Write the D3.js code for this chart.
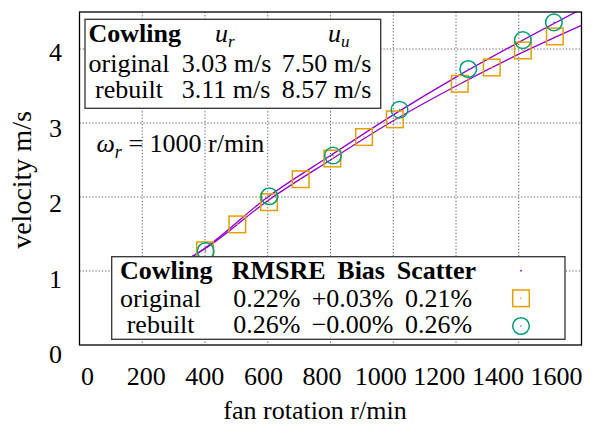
<!DOCTYPE html>
<html lang="en">
<head>
    <meta charset="UTF-8">
    <title>fan rotation vs velocity</title>
    <script src="https://cdn.jsdelivr.net/npm/d3@7/dist/d3.min.js"></script>
    <style>
        body { margin: 0; background: #fff; }
        svg text { font-family: "Liberation Serif", "Tinos", "Times New Roman", "DejaVu Serif", serif; fill: #000; }
    </style>
</head>
<body>
    <div id="chart"></div>
    <script>
        // =============================
        // 1. Data
        // =============================
        const xTicks = [0, 200, 400, 600, 800, 1000, 1200, 1400, 1600];
        const yTicks = [0, 1, 2, 3, 4];

        // measured points
        const origRpm = [400, 503, 604, 705, 806, 907, 1005, 1212, 1314, 1413, 1515];
        const origVel = [1.28, 1.63, 1.93, 2.24, 2.52, 2.81, 3.05, 3.53, 3.75, 3.98, 4.17];
        const rebuiltRpm = [402, 605, 808, 1020, 1239, 1413, 1512];
        const rebuiltVel = [1.27, 2.01, 2.56, 3.18, 3.73, 4.12, 4.36];

        // fitted curves
        const fitRpm = [350, 400, 600, 800, 1000, 1200, 1400, 1600];
        const fitOrig = [1.17, 1.30, 1.95, 2.50, 3.03, 3.50, 3.93, 4.32];
        const fitRebuilt = [1.17, 1.31, 2.00, 2.56, 3.11, 3.62, 4.09, 4.54];

        // legend tables
        const cowlings = ["original", "rebuilt"];
        const uR = ["3.03 m/s", "3.11 m/s"];
        const uU = ["7.50 m/s", "8.57 m/s"];
        const rmsre = ["0.22%", "0.26%"];
        const bias = ["+0.03%", "\u22120.00%"];
        const scatter = ["0.21%", "0.26%"];

        const colFit = "#9400d3", colOrig = "#e69f00", colReb = "#009e73";
        const FS = "26px";

        // =============================
        // 2. SVG Setup
        // =============================
        const width = 611, height = 426;
        const plot = { left: 79.5, right: 581.5, top: 12, bottom: 345 };

        const svg = d3.select("#chart").append("svg")
            .attr("width", width).attr("height", height);

        const x = d3.scaleLinear().domain([0, 1600]).range([plot.left, plot.right]);
        const y = d3.scaleLinear().domain([0, 4.5]).range([plot.bottom, plot.top]);
        // tick labels sit a little off the grid in the original
        const xLab = d3.scaleLinear().domain([0, 1600]).range([87, 556]);
        const yLab = d3.scaleLinear().domain([0, 4]).range([354, 51.7]);

        svg.append("clipPath").attr("id", "clip")
            .append("rect")
            .attr("x", plot.left).attr("y", plot.top)
            .attr("width", plot.right - plot.left).attr("height", plot.bottom - plot.top);

        // grid
        const grid = svg.append("g")
            .attr("stroke", "#555").attr("stroke-width", 1).attr("stroke-dasharray", "1.2,2");
        grid.selectAll(".gx").data(xTicks.slice(1, -1)).enter().append("line")
            .attr("x1", d => x(d)).attr("x2", d => x(d))
            .attr("y1", plot.top).attr("y2", plot.bottom);
        grid.selectAll(".gy").data(yTicks.slice(1)).enter().append("line")
            .attr("x1", plot.left).attr("x2", plot.right)
            .attr("y1", d => y(d)).attr("y2", d => y(d));

        // tick labels
        svg.append("g")
            .attr("transform", `translate(0, 385)`)
            .call(d3.axisBottom(xLab).tickValues(xTicks).tickFormat(d3.format("d")).tickSize(0).tickPadding(0))
            .call(g => g.select(".domain").remove())
            .selectAll("text")
            .attr("dy", 0)
            .style("font-size", FS);

        svg.append("g")
            .attr("transform", `translate(62, 0)`)
            .call(d3.axisLeft(yLab).tickValues(yTicks).tickFormat(d3.format("d")).tickSize(0).tickPadding(0))
            .call(g => g.select(".domain").remove())
            .selectAll("text")
            .attr("dy", "0.34em")
            .style("font-size", FS);

        // axis titles
        svg.append("text")
            .attr("x", 315).attr("y", 419)
            .attr("text-anchor", "middle")
            .style("font-size", FS)
            .text("fan rotation r/min");

        svg.append("text")
            .attr("transform", "translate(31, 180) rotate(-90)")
            .attr("text-anchor", "middle")
            .style("font-size", "28px")
            .text("velocity m/s");

        // =============================
        // 3. Fit lines and points
        // =============================
        const line = d3.line()
            .x(d => x(d[0])).y(d => y(d[1]))
            .curve(d3.curveMonotoneX);

        const lines = svg.append("g").attr("clip-path", "url(#clip)");
        [fitOrig, fitRebuilt].forEach(vals => {
            lines.append("path")
                .attr("d", line(fitRpm.map((r, i) => [r, vals[i]])))
                .attr("fill", "none")
                .attr("stroke", colFit).attr("stroke-width", 1.3);
        });

        const half = 8.3;
        const pts = svg.append("g");
        origRpm.forEach((r, i) => {
            pts.append("rect")
                .attr("x", x(r) - half).attr("y", y(origVel[i]) - half)
                .attr("width", half * 2).attr("height", half * 2)
                .attr("fill", "none").attr("stroke", colOrig).attr("stroke-width", 1.5);
            pts.append("circle")
                .attr("cx", x(r)).attr("cy", y(origVel[i])).attr("r", 0.8)
                .attr("fill", colOrig);
        });
        rebuiltRpm.forEach((r, i) => {
            pts.append("circle")
                .attr("cx", x(r)).attr("cy", y(rebuiltVel[i])).attr("r", half)
                .attr("fill", "none").attr("stroke", colReb).attr("stroke-width", 1.5);
            pts.append("circle")
                .attr("cx", x(r)).attr("cy", y(rebuiltVel[i])).attr("r", 0.8)
                .attr("fill", colReb);
        });

        // frame
        svg.append("rect")
            .attr("x", plot.left).attr("y", plot.top)
            .attr("width", plot.right - plot.left).attr("height", plot.bottom - plot.top)
            .attr("fill", "none").attr("stroke", "#000").attr("stroke-width", 1.3);

        // =============================
        // 4. Legends / labels
        // =============================
        function cell(g, tx, ty, txt, opts = {}) {
            return g.append("text")
                .attr("x", tx).attr("y", ty)
                .style("font-size", opts.size || FS)
                .style("font-weight", opts.bold ? "bold" : null)
                .style("font-style", opts.italic ? "italic" : null)
                .text(txt);
        }
        // variable with subscript, e.g. u_r
        function subVar(g, tx, ty, main, sub) {
            const t = g.append("text").attr("x", tx).attr("y", ty)
                .style("font-size", FS).style("font-style", "italic");
            t.append("tspan").text(main);
            t.append("tspan").attr("dy", 5).style("font-size", "17px").text(sub);
            return t;
        }

        // upper box
        const box1 = svg.append("g");
        box1.append("rect")
            .attr("x", 85).attr("y", 19.3).attr("width", 295.7).attr("height", 89)
            .attr("fill", "#fff").attr("stroke", "#333").attr("stroke-width", 1.3);
        cell(box1, 88.5, 41.7, "Cowling", { bold: true });
        subVar(box1, 215, 41.7, "u", "r");
        subVar(box1, 328, 41.7, "u", "u");
        const rows1 = [71.7, 98.3];
        cowlings.forEach((c, i) => {
            cell(box1, i === 0 ? 88.5 : 95, rows1[i], c);
            cell(box1, 181.7, rows1[i], uR[i]);
            cell(box1, 281.7, rows1[i], uU[i]);
        });

        // omega label
        const om = svg.append("text").attr("x", 96.5).attr("y", 152)
            .style("font-size", FS);
        om.append("tspan").style("font-style", "italic").text("\u03c9");
        om.append("tspan").attr("dy", 6).style("font-size", "18px").style("font-style", "italic").text("r");
        om.append("tspan").attr("dy", -6).text(" = 1000 r/min");

        // lower box
        const box2 = svg.append("g");
        box2.append("rect")
            .attr("x", 111.7).attr("y", 256.7).attr("width", 453.3).attr("height", 82.6)
            .attr("fill", "#fff").attr("stroke", "#333").attr("stroke-width", 1.3);
        cell(box2, 120, 279.3, "Cowling", { bold: true });
        cell(box2, 231.7, 279.3, "RMSRE", { bold: true });
        cell(box2, 337.3, 279.3, "Bias", { bold: true });
        cell(box2, 396.7, 279.3, "Scatter", { bold: true });
        const rows2 = [306.7, 333.3];
        cowlings.forEach((c, i) => {
            cell(box2, i === 0 ? 120 : 126.7, rows2[i], c);
            cell(box2, 233.3, rows2[i], rmsre[i]);
            cell(box2, 311.7, rows2[i], bias[i]);
            cell(box2, 405, rows2[i], scatter[i]);
        });
        // legend samples
        const sx = 521;
        box2.append("circle").attr("cx", sx).attr("cy", 270.7).attr("r", 0.9).attr("fill", colFit);
        box2.append("rect")
            .attr("x", sx - half).attr("y", 298.3 - half).attr("width", half * 2).attr("height", half * 2)
            .attr("fill", "none").attr("stroke", colOrig).attr("stroke-width", 1.5);
        box2.append("circle").attr("cx", sx).attr("cy", 298.3).attr("r", 0.8).attr("fill", colOrig);
        box2.append("circle").attr("cx", sx).attr("cy", 326).attr("r", half)
            .attr("fill", "none").attr("stroke", colReb).attr("stroke-width", 1.5);
        box2.append("circle").attr("cx", sx).attr("cy", 326).attr("r", 0.8).attr("fill", colReb);
    </script>
</body>
</html>
